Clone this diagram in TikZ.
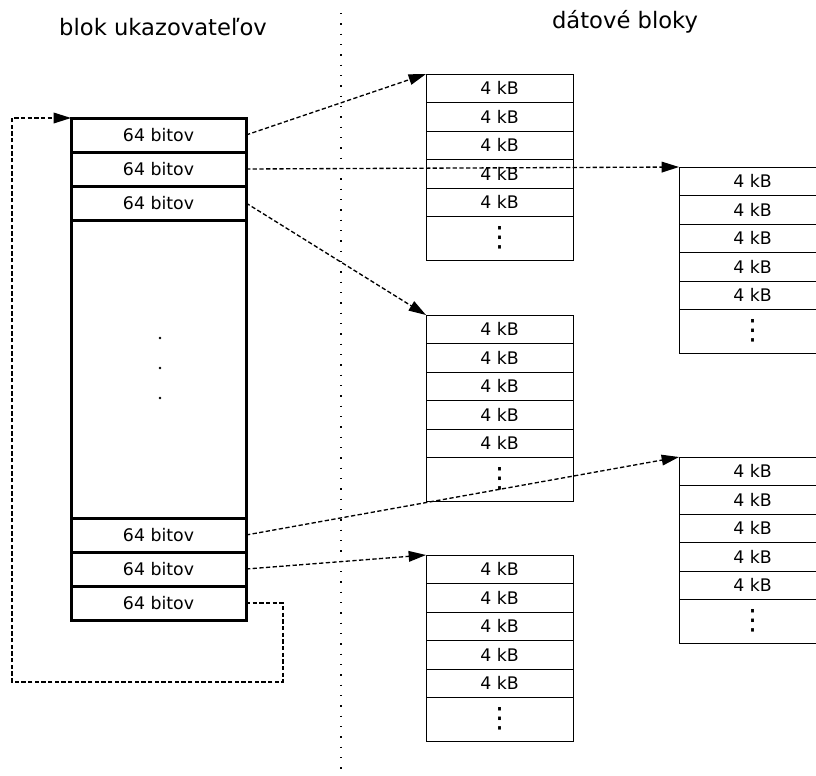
\documentclass[tikz,border=0pt]{standalone}
\usepackage{fontspec}
\setmainfont{DejaVu Sans}
\usetikzlibrary{arrows.meta}
\newcommand\datablk[3]{%
  \foreach \i in {0,...,4} {\node[datacell] (#1\i) at (#2,#3+28.5*\i) {4 kB};}
  \node[dotscell] (#1d) at (#2,#3+142.5) {\fontsize{21}{23}\selectfont ⋮};
}
\begin{document}
\begin{tikzpicture}[x=0.75pt,y=-0.75pt,
  ptrcell/.style={draw, line width=2.25pt, minimum width=131.25pt, minimum height=25.5pt,
    anchor=north west, inner sep=0pt, outer sep=0pt, font=\fontsize{13}{15}\selectfont},
  ptrbox/.style={draw, line width=2.25pt, minimum width=131.25pt, minimum height=376.5pt,
    anchor=north west, inner sep=0pt, outer sep=0pt},
  datacell/.style={draw, line width=0.75pt, minimum width=110.25pt, minimum height=21.375pt,
    anchor=north west, inner sep=0pt, outer sep=0pt, font=\fontsize{13}{15}\selectfont},
  dotscell/.style={datacell, minimum height=32.625pt},
  link/.style={-{Triangle[length=13pt,width=8pt]}, dash pattern=on 3.2pt off 1.8pt, line width=1pt},
  divider/.style={line width=1.1pt, dash pattern=on 1.1pt off 6.65pt},
  title/.style={font=\fontsize{17}{20}\selectfont, anchor=base, inner sep=0pt}]
\useasboundingbox (0,0) rectangle (816,775);

% titles
\node[title] (t1) at (163,35) {blok ukazovateľov};
\node[title] (t2) at (625,28) {dátové bloky};

% divider
\coordinate (vtop) at (341,13);
\coordinate (vbot) at (341,770);
\draw[divider] (vtop) -- (vbot);

% pointer block
\node[ptrbox] (ptr) at (71,118) {};
\node[ptrcell] (p1) at (71,118) {64 bitov};
\node[ptrcell] (p2) at (71,152) {64 bitov};
\node[ptrcell] (p3) at (71,186) {64 bitov};
\node[ptrcell] (p4) at (71,518) {64 bitov};
\node[ptrcell] (p5) at (71,552) {64 bitov};
\node[ptrcell] (p6) at (71,586) {64 bitov};
\foreach \yy in {338,368,398} {\fill (160,\yy) circle[radius=1.1pt];}

% data blocks
\datablk{A}{426}{74}
\datablk{B}{426}{315}
\datablk{C}{426}{555}
\datablk{D}{679}{167}
\datablk{E}{679}{457}

% links
\draw[link] (p1.east) -- (A0.north west);
\draw[link] (p2.east) -- (D0.north west);
\draw[link] (p3.east) -- (B0.north west);
\draw[link] (p4.east) -- (E0.north west);
\draw[link] (p5.east) -- (C0.north west);
\coordinate (l1) at (283,682);
\coordinate (l2) at (12,682);
\draw[link] (p6.east) -| (l1) -- (l2) |- (p1.north west);
\end{tikzpicture}
\end{document}
